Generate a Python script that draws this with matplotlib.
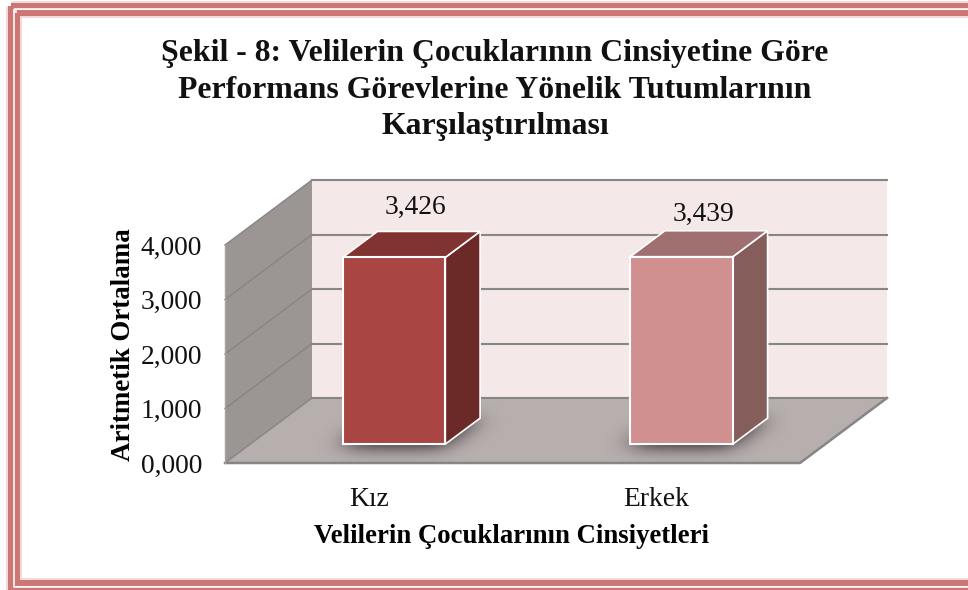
import matplotlib
matplotlib.use('Agg')
import matplotlib.pyplot as plt
from matplotlib.patches import Polygon, Rectangle
import numpy as np

categories = ['Kız', 'Erkek']
values = [3.426, 3.439]
value_labels = ['3,426', '3,439']
y_ticks = [0, 1, 2, 3, 4]
y_tick_labels = ['0,000', '1,000', '2,000', '3,000', '4,000']

title = 'Şekil - 8: Velilerin Çocuklarının Cinsiyetine Göre\nPerformans Görevlerine Yönelik Tutumlarının\nKarşılaştırılması'
y_title = 'Aritmetik Ortalama'
x_title = 'Velilerin Çocuklarının Cinsiyetleri'

front_colors = ['#a94644', '#d09090']
side_colors = ['#6b2a28', '#855e5c']
top_colors = ['#813331', '#a06f6f']
label_offsets = [(-9.5, 17), (-9.5, 12)]

plt.rcParams['font.family'] = ['Liberation Serif', 'DejaVu Serif']

fig = plt.figure(figsize=(9.68, 5.90), dpi=100, facecolor='white')

# frame round the picture, in pixels
frame = fig.add_axes([0, 0, 1, 1])
frame.set_xlim(0, 968)
frame.set_ylim(590, 0)
frame.axis('off')
px = 0.72
for x0, y0, y1, w, col in [(10.5, 5.5, 590, 11, '#f3d9d9'), (16.5, 12.5, 583, 10, '#f3d9d9'),
                           (10.5, 5.5, 590, 6, '#cc7676'), (16.5, 12.5, 583, 6, '#cc7676'),
                           (13.5, 9.3, 587, 1.6, 'white')]:
    frame.add_patch(Rectangle((x0, y0), 1000, y1 - y0, fill=False, edgecolor=col, linewidth=w * px))

ax = fig.add_axes([225 / 968, 127 / 590, 575 / 968, 218 / 590])
ax.patch.set_visible(False)
for s in ax.spines.values():
    s.set_visible(False)

# depth of the box, in data units
DX = 87 / 287.5
DY = 65 / 54.5
BAR_W = 0.357
D0, D1 = 0.29, 0.69


def pt(x, v, d):
    return (x + d * DX, v + d * DY)


def poly(pts, fc, ec='none', lw=0, z=1, alpha=None):
    p = Polygon(pts, closed=True, facecolor=fc, edgecolor=ec, linewidth=lw,
                zorder=z, alpha=alpha, clip_on=False)
    ax.add_patch(p)
    return p


def blur(a, sigma):
    r = np.arange(-int(3 * sigma), int(3 * sigma) + 1)
    k = np.exp(-r**2 / (2 * sigma**2))
    k = k / k.sum()
    a = np.apply_along_axis(lambda m: np.convolve(m, k, mode='same'), 0, a)
    return np.apply_along_axis(lambda m: np.convolve(m, k, mode='same'), 1, a)


grid = '#868686'
poly([pt(0, 0, 1), pt(2, 0, 1), pt(2, 4, 1), pt(0, 4, 1)], '#f4e8e8', z=1)
poly([pt(0, 0, 0), pt(0, 4, 0), pt(0, 4, 1), pt(0, 0, 1)], '#9b9594', z=1)
floor = poly([pt(0, 0, 0), pt(2, 0, 0), pt(2, 0, 1), pt(0, 0, 1)], '#b7aeae', z=2)

for v in y_ticks:
    ax.plot(*zip(pt(0, v, 1), pt(2, v, 1)), color=grid, lw=1.5, zorder=2, clip_on=False)
    ax.plot(*zip(pt(0, v, 0), pt(0, v, 1)), color='#878583', lw=1, zorder=2, clip_on=False)
ax.plot(*zip(pt(0, 0, 0), pt(2, 0, 0), pt(2, 0, 1)), color=grid, lw=1.8, zorder=3, clip_on=False)
ax.plot(*zip(pt(0, 0, 0), pt(0, 4, 0)), color='#a8a3a2', lw=1, zorder=3, clip_on=False)

# soft shadow of the bars on the floor
gx = np.linspace(0, 2 + DX, 440)
gv = np.linspace(0, DY, 65)
X, V = np.meshgrid(gx, gv)
D = V / DY
X0 = X - D * DX
mask = np.zeros(X.shape)
for i in range(len(values)):
    mask[(np.abs(X0 - (i + 0.5)) < BAR_W / 2) & (D > D0 - 0.05) & (D < D1)] = 1
shade = np.zeros(X.shape + (4,))
shade[..., :3] = (0.27, 0.24, 0.24)
shade[..., 3] = np.clip(blur(mask, 8) * 1.25, 0, 0.8)
im = ax.imshow(shade, origin='lower', extent=(gx[0], gx[-1], gv[0], gv[-1]), aspect='auto', zorder=3,
               interpolation='bilinear')
im.set_clip_path(floor)

ax.set_xlim(0, 2)
ax.set_ylim(0, 4)

for i, v in enumerate(values):
    x0 = i + 0.5 - BAR_W / 2
    x1 = i + 0.5 + BAR_W / 2
    poly([pt(x1, 0, D0), pt(x1, 0, D1), pt(x1, v, D1), pt(x1, v, D0)], side_colors[i], 'white', 1.2, z=4)
    poly([pt(x0, v, D0), pt(x1, v, D0), pt(x1, v, D1), pt(x0, v, D1)], top_colors[i], 'white', 1.2, z=4)
    poly([pt(x0, 0, D0), pt(x1, 0, D0), pt(x1, v, D0), pt(x0, v, D0)], front_colors[i], 'white', 1.5, z=5)
    ax.annotate(value_labels[i], xy=pt(i + 0.5, v, D1), xytext=label_offsets[i],
                textcoords='offset points', ha='center', va='center', fontsize=19.8, color='#111111',
                annotation_clip=False, zorder=6)

ax.set_yticks(y_ticks)
ax.set_yticklabels(y_tick_labels, fontsize=19.8, color='#111111')
ax.set_xticks([0.5, 1.5])
ax.set_xticklabels(categories, fontsize=19.8, color='#111111')
ax.tick_params(axis='both', length=0)
ax.tick_params(axis='y', pad=16.5)
ax.tick_params(axis='x', pad=17)
ax.set_xlabel(x_title, fontsize=19.3, fontweight='bold')
ax.set_ylabel(y_title, fontsize=19.4, fontweight='bold')
ax.xaxis.set_label_coords(0.499, -0.28)
ax.yaxis.set_label_coords(-0.154, 0.541)

fig.text(495 / 968, 1 - 90 / 590, title, ha='center', va='center', fontsize=22.9,
         fontweight='bold', linespacing=1.33, color='#111111')

fig.savefig('out.png', dpi=100)
